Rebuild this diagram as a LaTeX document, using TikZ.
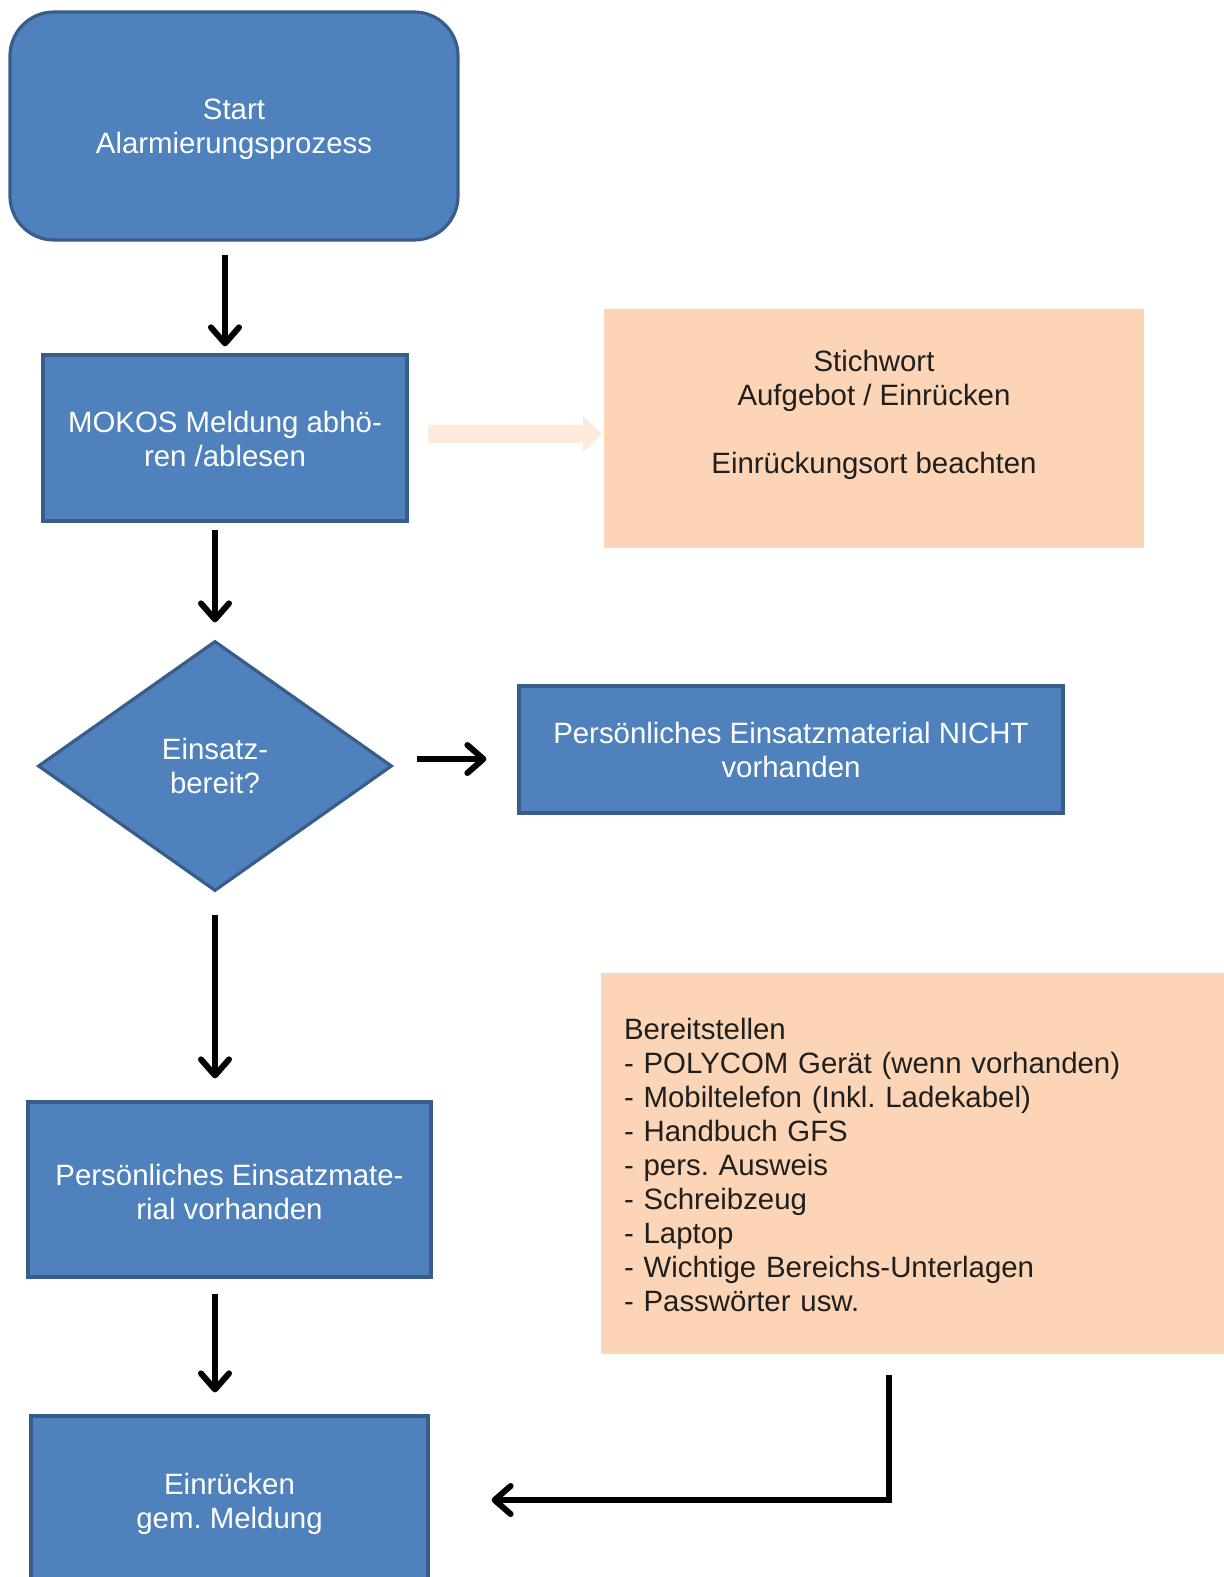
\documentclass[tikz,border=0pt]{standalone}
\usepackage{fontspec}
\setmainfont{Liberation Sans}
\usepackage{tikz}
\usetikzlibrary{shapes.geometric, arrows.meta}
\definecolor{boxblue}{HTML}{4F81BD}
\definecolor{boxedge}{HTML}{385D8A}
\definecolor{boxpeach}{HTML}{FBD5B5}
\definecolor{faintpeach}{HTML}{FDEADA}
\newcommand{\boxfont}{\fontsize{14.7}{17}\selectfont}
\newcommand{\topgap}[1]{\rule{0pt}{#1}}
\frenchspacing

\begin{document}
\begin{tikzpicture}[x=0.5pt, y=-0.5pt,
    bluebox/.style={draw=boxedge, line width=1.6pt, fill=boxblue, text=white, font=\boxfont, align=center, inner sep=0pt},
    peachbox/.style={fill=boxpeach, text=black!88, font=\boxfont, inner sep=0pt},
    arr/.style={line width=3pt, -{Straight Barb[length=8pt, width=14pt, round]}}]

  \useasboundingbox (0,0) rectangle (1224,1577);

  \node[bluebox, rounded corners=22pt, minimum width=224pt, minimum height=114pt] (start) at (234,126) {\topgap{14pt}Start\\Alarmierungsprozess};
  \node[bluebox, minimum width=182pt, minimum height=83pt] (mokos) at (225,438) {\topgap{12pt}MOKOS Meldung abhö-\\ren /ablesen};
  \node[peachbox, align=center, minimum width=270pt, minimum height=119.5pt] (stich) at (874,428.5) {Stichwort\\Aufgebot / Einrücken\\\strut\\Einrückungsort beachten\\\mbox{}};
  \node[bluebox, diamond, minimum width=177pt, minimum height=125pt] (dia) at (215,766) {Einsatz-\\bereit?};
  \node[bluebox, minimum width=272pt, minimum height=63.5pt] (nicht) at (791,749.5) {Persönliches Einsatzmaterial NICHT\\vorhanden};
  \node[peachbox, align=left, text width=288.5pt, inner xsep=11.5pt, minimum height=190.5pt] (bereit) at (912.5,1163.5) {\topgap{12.2pt}Bereitstellen\\- POLYCOM Gerät (wenn vorhanden)\\- Mobiltelefon (Inkl. Ladekabel)\\- Handbuch GFS\\- pers. Ausweis\\- Schreibzeug\\- Laptop\\- Wichtige Bereichs-Unterlagen\\- Passwörter usw.};
  \node[bluebox, minimum width=201.5pt, minimum height=87.5pt] (pers) at (229.5,1189.5) {\topgap{13.5pt}Persönliches Einsatzmate-\\rial vorhanden};
  \node[bluebox, minimum width=198.5pt, minimum height=84pt] (einr) at (229.5,1500) {\topgap{14.4pt}Einrücken\\gem. Meldung};

  \fill[faintpeach] (428,425) -- (583,425) -- (583,416) -- (602,434) -- (583,452) -- (583,443) -- (428,443) -- cycle;

  \draw[arr, shorten <=6.5pt, shorten >=3.5pt] (start.south -| mokos.north) -- (mokos.north);
  \draw[arr, shorten <=3.5pt, shorten >=8.5pt] (mokos.south -| dia.north) -- (dia.north);
  \draw[arr, shorten <=11.5pt, shorten >=15.5pt] ([yshift=3.5pt]dia.east) -- ([yshift=3.5pt]dia.east -| nicht.west);
  \draw[arr, shorten <=11pt, shorten >=11pt] (dia.south) -- (dia.south |- pers.north);
  \draw[arr, shorten <=7.5pt, shorten >=11pt] (pers.south -| dia.south) -- (dia.south |- einr.north);

  \coordinate (lstart) at (889,1375);
  \draw[arr, shorten >=31pt] (lstart) |- (einr.east);

\end{tikzpicture}
\end{document}
